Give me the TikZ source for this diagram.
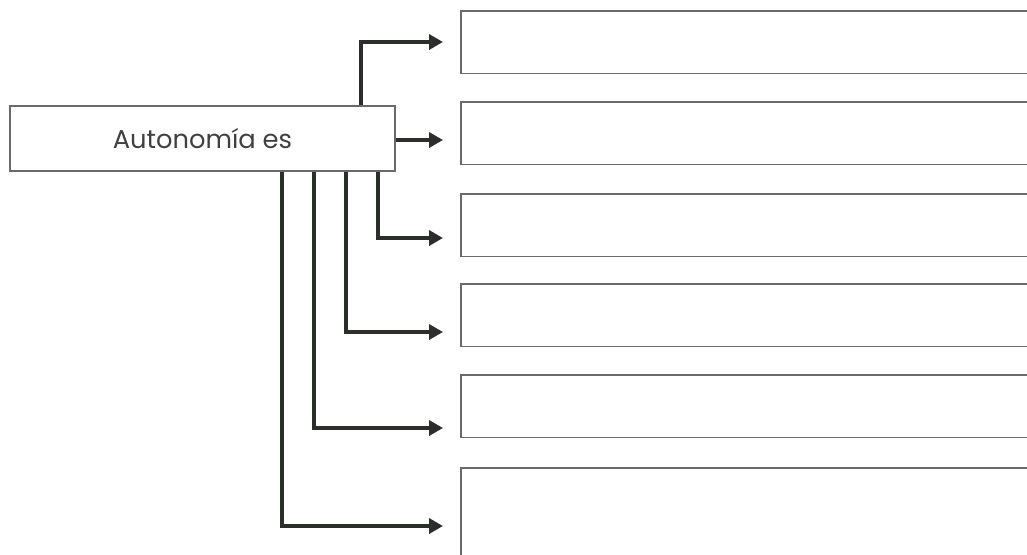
\documentclass[tikz,border=0pt]{standalone}
\usepackage{xcolor}
\usepackage{fontspec}
\setmainfont{Poppins}
\usetikzlibrary{arrows.meta}

\definecolor{inkline}{HTML}{2B2E2A}
\definecolor{boxline}{HTML}{6A6A6A}

\tikzset{
  field/.style={minimum width=17.5cm,minimum height=1.86cm,anchor=north west,inner sep=0pt},
  rim/.style={draw=boxline,line width=0.9pt},
  conn/.style={draw=inkline,line width=3pt,-{Triangle[length=0.42cm,width=0.45cm]}}
}

\begin{document}
\begin{tikzpicture}[x=0.03cm,y=-0.03cm]
      \useasboundingbox (0,0) rectangle (1027,554);
      % main box
      \node[rim,minimum width=11.55cm,minimum height=1.95cm,inner sep=0pt] (main) at (202.5,138.5) {\fontsize{22}{26}\selectfont\color{black!75}Autonomía es};
      % answer boxes, open at the right edge
      \node[field] (r1) at (461,11) {};
      \node[field] (r2) at (461,102) {};
      \node[field] (r3) at (461,194) {};
      \node[field] (r4) at (461,284) {};
      \node[field] (r5) at (461,375) {};
      \node[field,minimum height=3cm] (r6) at (461,468) {};
      \foreach \r in {r1,r2,r3,r4,r5,r6}
        \draw[rim] (\r.north east) -- (\r.north west) -- (\r.south west) -- (\r.south east);
      % arrow ends
      \coordinate (e1) at (443,42);
      \coordinate (e2) at (443,140);
      \coordinate (e3) at (443,238);
      \coordinate (e4) at (443,332);
      \coordinate (e5) at (443,428);
      \coordinate (e6) at (443,526);
      \draw[conn] (main.north -| 361,0) |- (e1);
      \draw[conn] (main.east |- e2) -- (e2);
      \draw[conn] (main.south -| 378,0) |- (e3);
      \draw[conn] (main.south -| 346,0) |- (e4);
      \draw[conn] (main.south -| 314,0) |- (e5);
      \draw[conn] (main.south -| 282,0) |- (e6);
    \end{tikzpicture}
\end{document}
